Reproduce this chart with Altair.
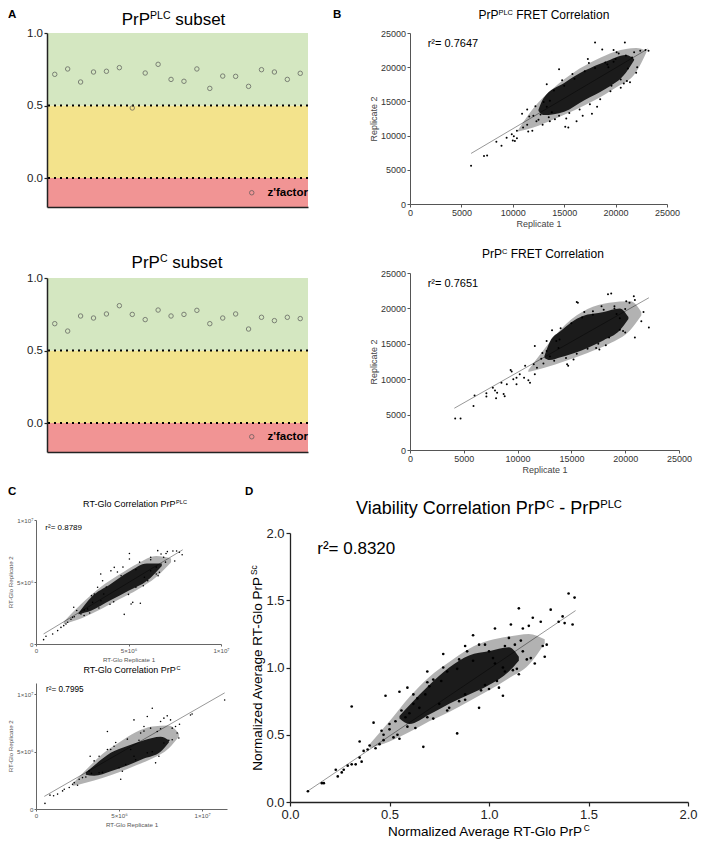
import altair as alt
import pandas as pd

FONT = "Liberation Sans"

# ---------------- data ----------------
plates = list(range(1, 21))
zfactor_plc = [0.715, 0.752, 0.662, 0.731, 0.736, 0.761, 0.483, 0.724, 0.784, 0.680,
               0.667, 0.752, 0.618, 0.703, 0.701, 0.632, 0.747, 0.731, 0.680, 0.722]
zfactor_c = [0.685, 0.634, 0.738, 0.724, 0.752, 0.809, 0.749, 0.713, 0.779, 0.738,
             0.749, 0.777, 0.685, 0.724, 0.752, 0.648, 0.729, 0.706, 0.729, 0.720]
zone_names = ["fail", "marginal", "excellent"]
zone_lo = [-0.2, 0.0, 0.5]
zone_hi = [0.0, 0.5, 1.0]
zone_colors = ["#f19494", "#f3e38c", "#d4e7c1"]
cutoffs = [0.0, 0.5]

# FRET PrP-PLC (Replicate 1, Replicate 2)
fret_plc_pts = [
    (5940, 5580), (7200, 7000), (7500, 7100), (8400, 9100), (8900, 8500), (9400, 9700),
    (9900, 10200), (10100, 9900), (10000, 9300), (10400, 9600), (10200, 9200), (10400, 10700),
    (11000, 11200), (11400, 11600), (11500, 10600), (10900, 13200), (11400, 13800), (12000, 12900),
    (12300, 12100), (12700, 13100), (11900, 10700), (13300, 14200), (13600, 15100), (13800, 13400),
    (13300, 17500), (13600, 12100), (14100, 12400), (14500, 19700), (15100, 11300), (15400, 11200),
    (16200, 12100), (17700, 13200), (17300, 21200), (18000, 23600), (20900, 23600), (19800, 22500),
    (20100, 22200), (18700, 22600), (19200, 20400), (21100, 18000), (21400, 17800), (22100, 20000),
    (22000, 19200), (22400, 22400), (22900, 22500), (23200, 22400), (20500, 17000), (20800, 17600),
    (21800, 22200), (21600, 21400), (19800, 20800), (19300, 20000),
    (12500, 12300), (13000, 14900), (13500, 12700), (14000, 16600), (14500, 12900), (15000, 17300),
    (15500, 13300), (16000, 18300), (16500, 13800), (17000, 19400), (17500, 14600), (18000, 19900),
    (18500, 15300), (19000, 20700), (19500, 16500), (20000, 21200), (20500, 18200), (21000, 21700),
    (15800, 19000), (16800, 12900), (14800, 18100), (18200, 14200), (19600, 17300), (21200, 19800),
    (12200, 14300), (11600, 12800), (12900, 11600), (17400, 20600), (15200, 12500), (20300, 22000)]
fret_plc_fit_x = [5940, 23100]
fret_plc_fit_y = [7390, 22650]
fret_plc_outer = ([10500, 12000, 14000, 16000, 18000, 20000, 22000, 23000],
                  [10600, 11200, 12400, 13700, 15200, 17000, 19300, 22200],
                  [10800, 14000, 17000, 19300, 21000, 22300, 22800, 22400])
fret_plc_inner = ([12500, 13000, 15000, 17000, 19000, 21000, 21800],
                  [13600, 13000, 13500, 15200, 16800, 19200, 21000],
                  [13800, 15500, 17700, 19500, 20800, 21800, 21200])

# FRET PrP-C
fret_c_pts = [
    (4200, 4450), (4700, 4450), (5900, 6200), (6000, 7700), (7100, 7550), (7100, 8000),
    (7700, 8800), (7900, 8400), (8100, 8100), (8000, 7300), (8700, 7900), (8800, 7600),
    (8500, 9500), (9000, 9300), (9350, 11300), (9450, 11100), (9600, 10000), (9900, 10200),
    (10200, 10700), (10600, 10200), (9900, 9300), (10700, 11900), (11000, 9850), (11150, 9500),
    (11500, 12100), (11800, 11600), (11600, 10700), (11600, 14700), (12200, 12900), (12400, 12200),
    (12700, 15400), (12700, 14000), (13200, 16900), (13600, 15400), (13900, 15600), (13800, 14400),
    (14600, 12100), (14700, 11900), (15500, 20900), (15600, 20800), (17000, 19600), (17300, 14400),
    (17600, 14200), (18400, 22000), (18700, 22100), (19000, 20300), (19800, 16800), (20000, 16600),
    (20100, 21000), (20400, 20800), (20900, 21200), (20800, 21700), (20900, 15900), (21500, 18200),
    (21700, 19500), (22200, 17300), (19200, 19200), (19500, 18600),
    (13000, 13200), (14000, 17200), (14500, 13000), (15000, 17900), (15500, 13600), (16000, 18700),
    (16500, 14300), (17000, 19100), (17500, 15000), (18000, 19800), (18500, 15900), (19000, 20000),
    (19500, 17000), (20000, 19900), (16200, 19500), (15200, 12800), (18200, 14800), (12300, 13700),
    (13400, 12600), (17800, 20300)]
fret_c_fit_x = [4120, 22200]
fret_c_fit_y = [5900, 21500]
fret_c_outer = ([11000, 12500, 14500, 16500, 18500, 20500, 21500],
                [11000, 11600, 12600, 13700, 15000, 17000, 19000],
                [11300, 14300, 17800, 19900, 20800, 21000, 19500])
fret_c_inner = ([12500, 13000, 14000, 16000, 18000, 19500, 20300],
                [13000, 12700, 13100, 14100, 15500, 16900, 18500],
                [13300, 15300, 16800, 18900, 19500, 20000, 18800])

# RT-Glo PrP-PLC (millions of RLU)
glo_plc_pts = [
    (0.41, 0.35), (0.54, 0.62), (0.9, 0.8), (1.17, 1.08), (1.35, 1.34), (1.5, 1.48), (1.62, 1.61),
    (1.71, 1.75), (1.89, 2.0), (1.98, 2.15), (2.07, 2.2), (2.04, 2.96), (2.43, 2.42), (2.61, 2.74),
    (2.79, 2.82), (3.06, 3.36), (3.51, 3.49), (3.66, 4.03), (3.6, 5.1), (3.5, 5.65), (4.77, 2.39),
    (5.14, 3.23), (5.23, 3.36), (5.64, 3.28), (5.05, 6.85), (5.05, 7.3), (5.86, 5.38), (6.04, 5.1),
    (6.2, 7.0), (6.58, 7.53), (6.76, 7.26), (7.03, 7.3), (7.1, 7.45), (7.4, 7.5), (7.6, 7.5),
    (7.5, 6.7), (7.9, 7.2), (7.75, 7.4), (5.4, 4.57), (6.2, 5.9), (6.5, 6.2), (3.33, 4.57),
    (3.15, 4.03), (4.23, 6.18), (4.05, 5.9), (4.7, 6.2), (6.5, 5.65), (6.67, 5.78),
    (2.2, 2.7), (2.6, 2.3), (3.0, 3.9), (3.4, 2.9), (3.8, 4.6), (4.2, 3.4), (4.6, 5.5), (5.0, 4.0),
    (5.4, 6.0), (5.8, 4.7), (6.2, 6.8), (6.6, 5.5), (7.0, 6.6), (2.9, 2.5), (4.4, 5.8), (5.6, 6.6),
    (4.0, 3.2), (6.9, 7.0)]
glo_plc_fit_x = [0.41, 7.93]
glo_plc_fit_y = [0.81, 7.6]
glo_plc_outer = ([1.5, 2.5, 3.5, 4.5, 5.5, 6.5, 7.3],
                 [1.6, 2.1, 2.8, 3.6, 4.4, 5.4, 6.6],
                 [1.8, 3.3, 4.6, 5.6, 6.5, 7.1, 6.9])
glo_plc_inner = ([2.3, 3.0, 4.0, 5.0, 6.0, 6.8],
                 [2.4, 2.7, 3.5, 4.3, 5.1, 6.3],
                 [2.5, 3.8, 4.8, 5.8, 6.5, 6.5])

# RT-Glo PrP-C (millions of RLU)
glo_c_pts = [
    (0.54, 0.49), (0.84, 1.21), (1.06, 1.15), (1.3, 1.3), (1.6, 1.58), (1.7, 1.73), (2.0, 1.87),
    (2.2, 2.16), (2.3, 2.3), (2.5, 2.07), (2.6, 2.59), (2.8, 2.74), (3.2, 3.31), (3.34, 3.11),
    (3.26, 4.61), (3.8, 3.17), (4.3, 6.77), (5.1, 2.59), (5.4, 3.89), (5.9, 7.78), (6.3, 6.63),
    (6.7, 8.07), (7.0, 8.79), (7.2, 4.03), (7.4, 4.61), (7.5, 7.64), (7.7, 7.93), (7.9, 8.13),
    (8.1, 7.78), (8.2, 7.06), (8.4, 7.2), (8.5, 6.63), (8.6, 6.2), (8.64, 7.4), (9.3, 8.2),
    (9.4, 8.3), (11.36, 9.51), (7.7, 5.76), (8.2, 6.05), (4.3, 5.19), (4.7, 5.48), (6.5, 7.2),
    (6.9, 7.06), (7.3, 6.77), (5.7, 5.19), (5.9, 4.61), (6.7, 4.9),
    (3.0, 2.8), (3.5, 4.2), (4.0, 3.2), (4.5, 5.2), (5.0, 3.6), (5.5, 6.1), (6.0, 4.3), (6.5, 6.8),
    (7.0, 5.0), (7.5, 7.0), (8.0, 6.0), (3.8, 4.6), (4.8, 5.8), (6.2, 6.0), (5.2, 3.3)]
glo_c_fit_x = [0.5, 11.36]
glo_c_fit_y = [1.1, 10.14]
glo_c_outer = ([2.2, 3.0, 4.0, 5.0, 6.0, 7.0, 8.0, 8.6],
               [2.0, 2.3, 2.7, 3.2, 3.8, 4.4, 5.3, 6.3],
               [2.2, 3.4, 4.8, 5.8, 6.7, 7.2, 7.3, 6.6])
glo_c_inner = ([3.0, 3.5, 4.5, 5.5, 6.5, 7.5, 8.0],
               [3.0, 2.9, 3.3, 3.8, 4.4, 5.0, 5.8],
               [3.2, 3.8, 4.9, 5.5, 6.0, 6.3, 6.0])

# Viability correlation (normalized)
via_pts = [
    (0.09, 0.08), (0.16, 0.14), (0.17, 0.14), (0.23, 0.24), (0.24, 0.19), (0.26, 0.22), (0.27, 0.24),
    (0.29, 0.27), (0.31, 0.28), (0.33, 0.28), (0.35, 0.33), (0.36, 0.30), (0.31, 0.71), (0.35, 0.45),
    (0.37, 0.38), (0.39, 0.39), (0.40, 0.42), (0.42, 0.59), (0.43, 0.40), (0.45, 0.43), (0.46, 0.53),
    (0.47, 0.50), (0.48, 0.79), (0.50, 0.54), (0.52, 0.48), (0.54, 0.50), (0.56, 0.68), (0.58, 0.63),
    (0.59, 0.56), (0.62, 0.80), (0.64, 0.77), (0.67, 0.41), (0.69, 0.89), (0.70, 0.86), (0.77, 1.00),
    (0.79, 0.97), (0.84, 0.51), (0.88, 1.16), (0.89, 1.12), (0.92, 1.24), (0.95, 1.17), (0.98, 1.17),
    (0.95, 0.70), (1.03, 1.29), (1.05, 0.85), (1.07, 0.79), (1.10, 1.22), (1.11, 1.32), (1.15, 1.44),
    (1.15, 0.95), (1.14, 0.99), (1.17, 1.29), (1.20, 1.31), (1.21, 1.07), (1.23, 1.03), (1.22, 1.37),
    (1.26, 1.34), (1.29, 1.17), (1.28, 1.08), (1.27, 1.16), (1.31, 1.43), (1.35, 1.34), (1.37, 1.38),
    (1.38, 1.33), (1.40, 1.55), (1.42, 1.32), (1.43, 1.52),
    (0.69, 0.97), (0.72, 0.91), (1.02, 1.07), (1.03, 1.03), (1.07, 1.00), (1.08, 0.97), (1.13, 1.17),
    (1.17, 1.12), (0.75, 0.73), (0.79, 0.68), (0.85, 0.75), (0.88, 0.80), (0.62, 0.73), (0.65, 0.70),
    (0.55, 0.82), (0.59, 0.85), (0.69, 0.63), (0.98, 0.87), (1.00, 0.84), (0.77, 1.10), (0.85, 1.06),
    (0.50, 0.58), (0.55, 0.47), (0.60, 0.66), (0.63, 0.55), (0.68, 0.80), (0.72, 0.62), (0.76, 0.90),
    (0.80, 0.70), (0.84, 0.99), (0.88, 0.76), (0.92, 1.05), (0.96, 0.83), (1.00, 1.12), (1.04, 0.90),
    (1.08, 1.16), (1.12, 0.98), (1.16, 1.20), (1.19, 1.06), (0.47, 0.46), (0.53, 0.60)]
via_fit_x = [0.09, 1.435]
via_fit_y = [0.082, 1.423]
via_outer = ([0.4, 0.5, 0.6, 0.7, 0.8, 0.9, 1.0, 1.1, 1.2, 1.28],
             [0.40, 0.45, 0.52, 0.60, 0.67, 0.75, 0.83, 0.92, 1.02, 1.18],
             [0.43, 0.60, 0.78, 0.93, 1.04, 1.14, 1.20, 1.23, 1.25, 1.21])
via_inner = ([0.55, 0.6, 0.7, 0.8, 0.9, 1.0, 1.1, 1.15],
             [0.62, 0.58, 0.65, 0.73, 0.80, 0.87, 0.97, 1.05],
             [0.64, 0.72, 0.87, 1.00, 1.09, 1.12, 1.15, 1.08])

r2_values = {"fret_plc": "0.7647", "fret_c": "0.7651", "glo_plc": "0.8789",
             "glo_c": "0.7995", "via": "0.8320"}

# ---------------- helpers ----------------
ONE = pd.DataFrame({"k": [0]})
NOVIEW = alt.ViewBackground(stroke=None, fill=None)
CW = {" ": 278, "'": 191, "-": 333, ".": 278, "=": 584, "\u00b2": 333, "\u00d7": 584,
      "A": 667, "C": 722, "E": 667, "F": 611, "G": 778, "L": 556, "N": 722, "P": 667,
      "R": 722, "S": 667, "T": 611, "V": 667,
      "a": 556, "b": 556, "c": 500, "d": 556, "e": 556, "g": 556, "i": 222, "l": 222,
      "m": 833, "n": 556, "o": 556, "p": 556, "r": 333, "s": 500, "t": 278, "u": 556,
      "v": 500, "y": 500, "z": 500}


def tw(s, fs):
    return sum(CW.get(ch, 556) for ch in s) * fs / 1000.0


def txt(s, x, y, fs, weight="normal", color="black", baseline="alphabetic", align="left"):
    return alt.Chart(ONE).mark_text(text=s, align=align, baseline=baseline, fontSize=fs,
                                    fontWeight=weight, color=color, font=FONT).encode(
        x=alt.value(x), y=alt.value(y))


def rich(segs, cx, by, fs, sup=0.62, rise=0.34, weight="normal", color="black", angle=0):
    sizes = [fs * sup if s else fs for _, s in segs]
    widths = [tw(t, z) for (t, _), z in zip(segs, sizes)]
    pos = -sum(widths) / 2.0
    out = []
    for (t, s), z, w in zip(segs, sizes, widths):
        r = fs * rise if s else 0.0
        stripped = t.lstrip(" ")
        lead = tw(t[:len(t) - len(stripped)], z)
        p = pos + lead
        if angle == 0:
            x, y = cx + p, by - r
        else:
            x, y = cx - r, by - p
        out.append(alt.Chart(ONE).mark_text(text=stripped, align="left", baseline="alphabetic",
                                            fontSize=z, fontWeight=weight, color=color,
                                            font=FONT, angle=angle).encode(
            x=alt.value(x), y=alt.value(y)))
        pos += w
    return out


def letter(s, x, y):
    return txt(s, x, y, 11.5, weight="bold", baseline="top")


def box(l, t, r, b):
    # invisible frame fixing each panel's extent inside the figure grid
    return alt.Chart(ONE).mark_rect(opacity=0, fillOpacity=0, strokeOpacity=0).encode(
        x=alt.value(l), x2=alt.value(r), y=alt.value(t), y2=alt.value(b))


# ---------------- panel A ----------------
WA, HA = 261, 174


def zpanel(vals, title_layers, legend_xy, extra):
    xs = alt.Scale(domain=[0.4, 20.6], nice=False, zero=False)
    ys = alt.Scale(domain=[-0.2, 1.0], nice=False, zero=False)
    yaxis = alt.Axis(values=[0, 0.5, 1.0], format=".1f", grid=False, title=None,
                     domainColor="#222", domainWidth=1.5, tickColor="#222", tickWidth=1.2,
                     tickSize=3, labelFontSize=11.5, labelColor="#222", labelPadding=1.5,
                     labelFlush=False, labelOverlap=False, zindex=1)
    xaxis = alt.Axis(labels=False, ticks=False, grid=False, title=None,
                     domainColor="#222", domainWidth=1.5, zindex=1)
    zones = pd.DataFrame({"zone": zone_names, "lo": zone_lo, "hi": zone_hi})
    rect = alt.Chart(zones).mark_rect().encode(
        x=alt.value(0), x2=alt.value(WA),
        y=alt.Y("lo:Q", scale=ys, axis=yaxis), y2="hi:Q",
        fill=alt.Fill("zone:N", scale=alt.Scale(domain=zone_names, range=zone_colors),
                      legend=None))
    rules = alt.Chart(pd.DataFrame({"c": cutoffs})).mark_rule(
        color="black", strokeWidth=2, strokeDash=[2, 4]).encode(
        y=alt.Y("c:Q", scale=ys, axis=yaxis))
    df = pd.DataFrame({"plate": plates, "z": vals, "series": ["z'factor"] * len(plates)})
    pts = alt.Chart(df).mark_point(filled=False, size=20, strokeWidth=1).encode(
        x=alt.X("plate:Q", scale=xs, axis=xaxis),
        y=alt.Y("z:Q", scale=ys, axis=yaxis),
        stroke=alt.Stroke("series:N", scale=alt.Scale(range=["#555555"]),
                          legend=alt.Legend(title=None, orient="none",
                                            legendX=legend_xy[0], legendY=legend_xy[1],
                                            labelFontSize=11.5, labelFontWeight="bold",
                                            labelColor="black", labelFont=FONT,
                                            symbolType="circle", symbolSize=20,
                                            symbolStrokeWidth=1, labelOffset=10, padding=0)))
    return alt.layer(rect, rules, pts, *title_layers, *extra).properties(
        width=WA, height=HA, view=NOVIEW)


a1 = zpanel(zfactor_plc, rich([("PrP", 0), ("PLC", 1), (" subset", 0)], 126.5, -8, 17),
            (199, 154), [letter("A", -39, -24), letter("B", 286, -24),
                         box(-39, -24, 313, 213)])
a2 = zpanel(zfactor_c, rich([("PrP", 0), ("C", 1), (" subset", 0)], 130, -10, 17),
            (199, 153), [box(-39, -32, 313, 201)])


# ---------------- scatter builder ----------------
def scatter(pts, fit_x, fit_y, outer, inner, w, h, xdom, ydom, xaxis, yaxis, size,
            extra, mult=1.0, xrange=None, yrange=None):
    sx = alt.Scale(domain=xdom, nice=False, zero=False, **({"range": xrange} if xrange else {}))
    sy = alt.Scale(domain=ydom, nice=False, zero=False, **({"range": yrange} if yrange else {}))
    X = lambda f: alt.X(f + ":Q", scale=sx, axis=xaxis)
    Y = lambda f: alt.Y(f + ":Q", scale=sy, axis=yaxis)
    o = pd.DataFrame({"x": [v * mult for v in outer[0]], "lo": [v * mult for v in outer[1]],
                      "hi": [v * mult for v in outer[2]]})
    i = pd.DataFrame({"x": [v * mult for v in inner[0]], "lo": [v * mult for v in inner[1]],
                      "hi": [v * mult for v in inner[2]]})
    p = pd.DataFrame({"x": [a * mult for a, _ in pts], "y": [b * mult for _, b in pts]})
    f = pd.DataFrame({"x": [v * mult for v in fit_x], "y": [v * mult for v in fit_y]})
    lf = alt.Chart(f).mark_line(color="#8c8c8c", strokeWidth=0.9).encode(x=X("x"), y=Y("y"))
    lo = alt.Chart(o).mark_area(color="black", opacity=0.3, interpolate="monotone").encode(
        x=X("x"), y=Y("lo"), y2="hi:Q")
    li = alt.Chart(i).mark_area(color="black", opacity=0.85, interpolate="monotone").encode(
        x=X("x"), y=Y("lo"), y2="hi:Q")
    lp = alt.Chart(p).mark_circle(color="black", size=size, opacity=1).encode(x=X("x"), y=Y("y"))
    return alt.layer(lf, lo, li, lp, *extra).properties(width=w, height=h, view=NOVIEW)


# ---------------- panel B ----------------
B_AX = dict(grid=False, domainColor="#555", domainWidth=1, tickColor="#555", tickSize=3,
            labelFontSize=9, labelColor="#333", labelFont=FONT, titleFont=FONT,
            titleFontSize=9, titleFontWeight="normal", titleColor="#444", labelPadding=1.5,
            format="d", labelFlush=False, labelOverlap=False,
            values=[0, 5000, 10000, 15000, 20000, 25000])
bx = alt.Axis(title="Replicate 1", titlePadding=2, **B_AX)
by = alt.Axis(title="Replicate 2", titlePadding=2, **B_AX)

b1 = scatter(fret_plc_pts, fret_plc_fit_x, fret_plc_fit_y, fret_plc_outer, fret_plc_inner,
             257, 171, [0, 25000], [0, 25000], bx, by, 4,
             rich([("PrP", 0), ("PLC", 1), (" FRET Correlation", 0)], 134, -14, 12)
             + [txt("r\u00b2= " + r2_values["fret_plc"], 17.7, 13.7, 11),
                box(-50, -24, 287, 208)])
b2 = scatter(fret_c_pts, fret_c_fit_x, fret_c_fit_y, fret_c_outer, fret_c_inner,
             269, 177, [0, 25000], [0, 25000], bx, by, 4,
             rich([("PrP", 0), ("C", 1), (" FRET Correlation", 0)], 133, -15.3, 12)
             + [txt("r\u00b2= " + r2_values["fret_c"], 17.7, 13.7, 11),
                box(-50, -32, 287, 206)])

# ---------------- panel C ----------------
# the C views share their origin with panel A; their plots start CSH px further left
CSH = 11
c_label = "datum.value == 0 ? '0' : (datum.value == 5000000 ? '5\u00d710\u2076' : '1\u00d710\u2077')"
C_AX = dict(grid=False, domainColor="#666", tickColor="#666", tickSize=2, labelFontSize=6.2,
            labelColor="#555", labelPadding=1, labelExpr=c_label, labelFont=FONT,
            titleFont=FONT, titleFontSize=6.2, titleFontWeight="normal", titleColor="#555",
            labelFlush=False, labelOverlap=False, values=[0, 5000000, 10000000])
cy_ax = alt.Axis(title=None, offset=CSH, **C_AX)


def c_ytitle(mid):
    return rich([("RT-Glo Replicate 2", 0)], -34, mid, 6.2, color="#555", angle=270)


c1 = scatter(glo_plc_pts, glo_plc_fit_x, glo_plc_fit_y, glo_plc_outer, glo_plc_inner,
             185, 124, [0, 10000000], [0, 10000000],
             alt.Axis(title="RT-Glo Replicate 1", titlePadding=3, titleX=185 / 2 - CSH, **C_AX),
             cy_ax, 2.5,
             rich([("RT-Glo Correlation PrP", 0), ("PLC", 1)], 99 - CSH, -13.3, 9)
             + c_ytitle(62)
             + [txt("r\u00b2= " + r2_values["glo_plc"], 9.3 - CSH, 10.3, 8),
                letter("C", -39, -34), box(-39, -41, 193, 144)],
             mult=1e6, xrange=[-CSH, 185 - CSH])
c2 = scatter(glo_c_pts, glo_c_fit_x, glo_c_fit_y, glo_c_outer, glo_c_inner,
             191, 126, [0, 11500000], [0, 11000000],
             alt.Axis(title="RT-Glo Replicate 1", titlePadding=3, titleX=191 / 2 - CSH, **C_AX),
             cy_ax, 2.5,
             rich([("RT-Glo Correlation PrP", 0), ("C", 1)], 96 - CSH, -9.7, 9)
             + c_ytitle(63)
             + [txt("r\u00b2= " + r2_values["glo_c"], 10 - CSH, 9, 8.2),
                box(-39, -19, 193, 156)],
             mult=1e6, xrange=[-CSH, 191 - CSH])

# ---------------- panel D ----------------
# the D view shares its top with panel C1; its plot starts DSH px lower
DSH = 13
DW, DH = 398, 269
D_AX = dict(grid=False, domainColor="#222", domainWidth=1.3, tickColor="#222", tickWidth=1.2,
            tickSize=4, labelFontSize=13, labelColor="#222", labelPadding=2, format=".1f",
            title=None, labelFlush=False, labelOverlap=False, labelFont=FONT,
            values=[0, 0.5, 1.0, 1.5, 2.0])
d = scatter(via_pts, via_fit_x, via_fit_y, via_outer, via_inner, DW, DH + DSH, [0, 2], [0, 2],
            alt.Axis(**D_AX), alt.Axis(**D_AX), 7,
            rich([("Viability Correlation PrP", 0), ("C", 1), (" - PrP", 0), ("PLC", 1)],
                 DW / 2, DSH - 18.7, 18)
            + rich([("Normalized Average RT-Glo PrP", 0), ("C", 1)], DW / 2, DSH + 303, 13.5)
            + rich([("Normalized Average RT-Glo PrP", 0), ("Sc", 1)], -28.5, DSH + 135, 13.5,
                   angle=270)
            + [txt("r\u00b2= " + r2_values["via"], 27.3, DSH + 21.3, 17),
               letter("D", -45, DSH - 47), box(-50, -41, 407, 319)],
            yrange=[DH + DSH, DSH])

# ---------------- layout ----------------
RES = dict(stroke="independent", fill="independent")
colA = alt.vconcat(a1, a2, spacing=0).resolve_scale(**RES)
colB = alt.vconcat(b1, b2, spacing=0)
row1 = alt.hconcat(colA, colB, spacing=0).resolve_scale(**RES)
colC = alt.vconcat(c1, c2, spacing=0)
row2 = alt.hconcat(colC, d, spacing=0)

chart = (alt.vconcat(row1, row2, spacing=0)
         .resolve_scale(**RES)
         .properties(padding=0)
         .configure_view(stroke=None)
         .configure(font=FONT))

chart.save("out.html", embed_options={"renderer": "svg", "actions": False})
